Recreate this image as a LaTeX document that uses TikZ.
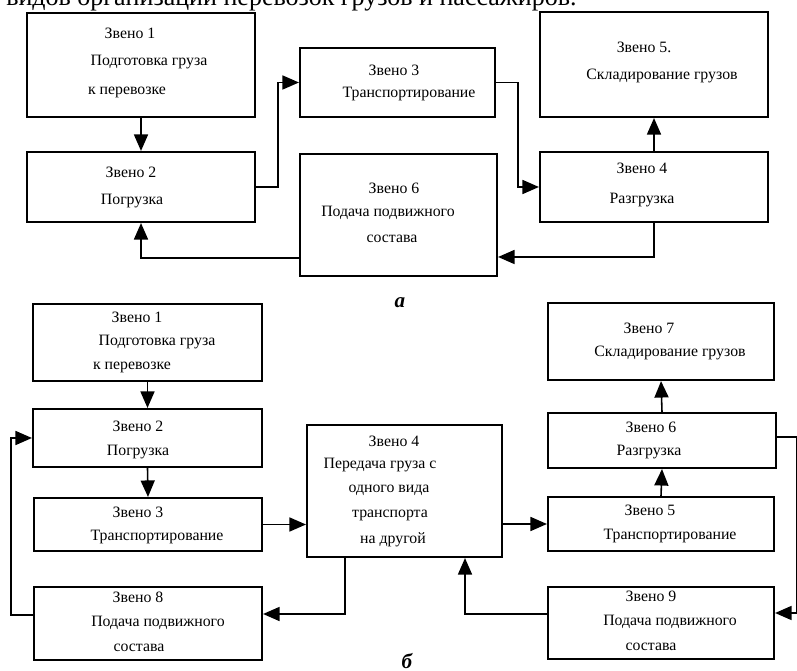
\documentclass[tikz,border=0pt]{standalone}
\usepackage{fontspec}
\setmainfont{Liberation Serif}
\usetikzlibrary{arrows.meta,fit}

\tikzset{
  zveno/.style={draw, line width=1.2pt, inner sep=0pt},
  txt/.style={font=\fontsize{9}{10}\selectfont, inner sep=0pt},
  arr/.style={line width=0.9pt, -{Triangle[length=3.3mm,width=2.8mm]}},
  part/.style={font=\fontsize{12}{14}\selectfont\bfseries\itshape, inner sep=0pt}
}

\begin{document}
\begin{tikzpicture}[x=0.02cm, y=-0.02cm]

  % Page of the same size as the scan (pixel units, y downwards)
  \useasboundingbox (0,0) rectangle (797,671);

  % Last line of the text above, cut by the top edge
  \node[font=\fontsize{14.8}{17}\selectfont, inner sep=0pt, anchor=base east] (T) at (577,6)
    {видов организации перевозок грузов и пассажиров.};

  % ---------------- Scheme a ----------------

  % Boxes
  \node[zveno, fit={(27,13) (255,117)}] (A1) {};
  \node[zveno, fit={(27,152) (255,222)}] (A2) {};
  \node[zveno, fit={(300,48) (495,117)}] (A3) {};
  \node[zveno, fit={(540,152) (768,222)}] (A4) {};
  \node[zveno, fit={(540,12) (768,117)}] (A5) {};
  \node[zveno, fit={(300,154) (497,276)}] (A6) {};

  % Texts of the boxes
  \node[txt] (A1a) at (130,33) {Звено 1};
  \node[txt] (A1b) at (149,62) {Подготовка груза};
  \node[txt] (A1c) at (127,92) {к перевозке};

  \node[txt] (A2a) at (131,172) {Звено 2};
  \node[txt] (A2b) at (132,201) {Погрузка};

  \node[txt] (A3a) at (394,70) {Звено 3};
  \node[txt] (A3b) at (409,94) {Транспортирование};

  \node[txt] (A4a) at (642,168) {Звено 4};
  \node[txt] (A4b) at (642,200) {Разгрузка};

  \node[txt] (A5a) at (644,47) {Звено 5.};
  \node[txt] (A5b) at (662,76) {Складирование грузов};

  \node[txt] (A6a) at (394,188) {Звено 6};
  \node[txt] (A6b) at (388,213) {Подача подвижного};
  \node[txt] (A6c) at (392,239) {состава};

  % Connections
  \draw[arr] (A1.south) -- (A2.north);
  \draw[arr] (A2.east) -- ++(22,0) |- (A3.west);
  \draw[arr] (A3.east) -- ++(22,0) |- (A4.west);
  \draw[arr] (A4.north) -- (A5.south);
  \draw[arr] (A4.south) |- (A6.east |- 0,257);
  \draw[arr] (A6.west |- 0,258) -| (A2.south);

  % Caption
  \node[part] (Ca) at (400,303) {а};

  % ---------------- Scheme b ----------------

  % Boxes
  \node[zveno, fit={(33,304) (262,381)}] (B1) {};
  \node[zveno, fit={(33,409) (262,467)}] (B2) {};
  \node[zveno, fit={(34,498) (262,551)}] (B3) {};
  \node[zveno, fit={(307,425) (502,557)}] (B4) {};
  \node[zveno, fit={(548,497) (774,551)}] (B5) {};
  \node[zveno, fit={(548,413) (776,468)}] (B6) {};
  \node[zveno, fit={(548,303) (774,380)}] (B7) {};
  \node[zveno, fit={(34,587) (262,660)}] (B8) {};
  \node[zveno, fit={(548,587) (774,659)}] (B9) {};

  % Texts of the boxes
  \node[txt] (B1a) at (137,317) {Звено 1};
  \node[txt] (B1b) at (157,342) {Подготовка груза};
  \node[txt] (B1c) at (132,367) {к перевозке};

  \node[txt] (B2a) at (138,426) {Звено 2};
  \node[txt] (B2b) at (138,452) {Погрузка};

  \node[txt] (B3a) at (138,512) {Звено 3};
  \node[txt] (B3b) at (157,537) {Транспортирование};

  \node[txt] (B4a) at (394,441) {Звено 4};
  \node[txt] (B4b) at (380,465) {Передача груза с};
  \node[txt] (B4c) at (389,490) {одного вида};
  \node[txt] (B4d) at (390,515) {транспорта};
  \node[txt] (B4e) at (393,540) {на другой};

  \node[txt] (B5a) at (650,510) {Звено 5};
  \node[txt] (B5b) at (670,536) {Транспортирование};

  \node[txt] (B6a) at (651,427) {Звено 6};
  \node[txt] (B6b) at (649,452) {Разгрузка};

  \node[txt] (B7a) at (649,328) {Звено 7};
  \node[txt] (B7b) at (670,353) {Складирование грузов};

  \node[txt] (B8a) at (138,597) {Звено 8};
  \node[txt] (B8b) at (158,623) {Подача подвижного};
  \node[txt] (B8c) at (139,648) {состава};

  \node[txt] (B9a) at (651,596) {Звено 9};
  \node[txt] (B9b) at (670,622) {Подача подвижного};
  \node[txt] (B9c) at (651,647) {состава};

  % Connections
  \draw[arr] (B1.south) -- (B2.north);
  \draw[arr] (B2.south) -- (B3.north);
  \draw[arr] (B3.east) -- (B4.west |- B3.east);
  \draw[arr] (B4.east |- B5.west) -- (B5.west);
  \draw[arr] (B5.north) -- (B6.south);
  \draw[arr] (B6.north) -- (B7.south);
  \draw[arr] (B6.east |- 0,437) -- ++(20,0) |- (B9.east |- 0,613);
  \draw[arr] (B9.west |- 0,614) -| (B4.south -| 465,0);
  \draw[arr] (B4.south -| 345,0) |- (B8.east |- 0,614);
  \draw[arr] (B8.west |- 0,615) -- ++(-22,0) |- (B2.west);

  % Caption
  \node[part] (Cb) at (407,661) {б};

\end{tikzpicture}
\end{document}
